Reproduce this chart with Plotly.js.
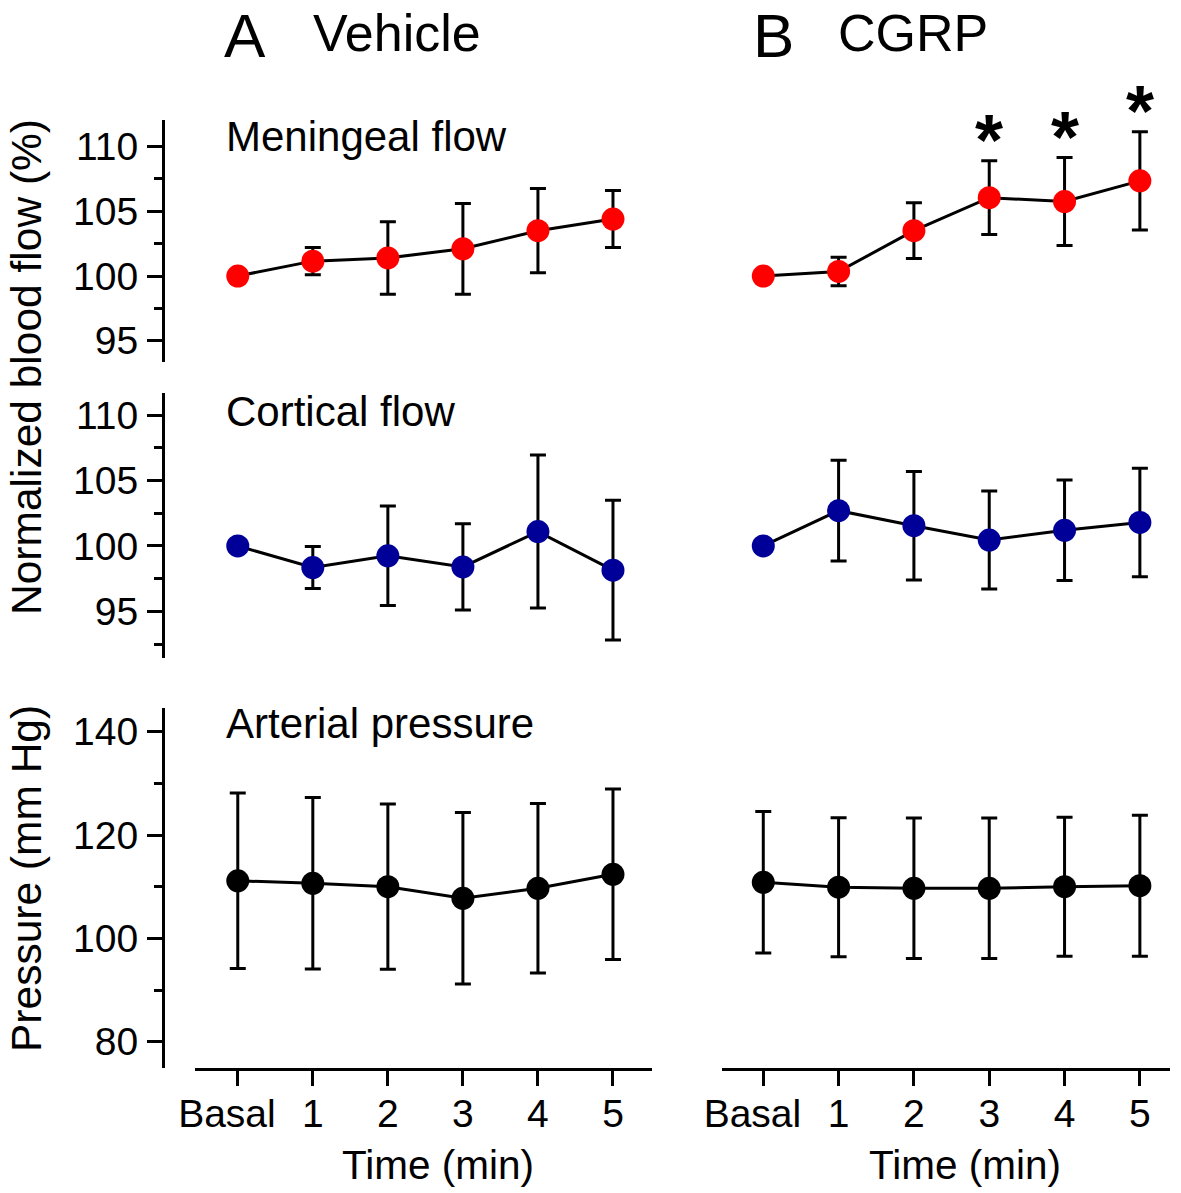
<!DOCTYPE html>
<html>
<head>
<meta charset="utf-8">
<script src="https://cdn.plot.ly/plotly-3.0.1.min.js"></script>
<style>html,body{margin:0;padding:0;background:#fff;}#chart{width:1181px;height:1193px;}</style>
</head>
<body>
<div id="chart"></div>
<script>
// ---- data ----
const timeLabels = ['Basal', '1', '2', '3', '4', '5'];

const vehMenMean  = [100, 101.15, 101.4, 102.1, 103.5, 104.4];
const vehMenErr   = [0, 1.05, 2.8, 3.5, 3.25, 2.2];
const cgrpMenMean = [100, 100.35, 103.5, 106.05, 105.75, 107.35];
const cgrpMenErr  = [0, 1.1, 2.15, 2.85, 3.4, 3.8];

const vehCorMean  = [100, 98.35, 99.25, 98.4, 101.1, 98.15];
const vehCorErr   = [0, 1.6, 3.8, 3.3, 5.85, 5.35];
const cgrpCorMean = [100, 102.7, 101.55, 100.45, 101.2, 101.8];
const cgrpCorErr  = [0, 3.85, 4.15, 3.75, 3.85, 4.15];

const vehPresMean  = [111.15, 110.65, 110.0, 107.75, 109.7, 112.4];
const vehPresErr   = [17.0, 16.6, 16.0, 16.6, 16.4, 16.5];
const cgrpPresMean = [110.85, 109.9, 109.7, 109.7, 110.0, 110.2];
const cgrpPresErr  = [13.7, 13.45, 13.6, 13.6, 13.45, 13.65];

const sigCgrpMen = ['3', '4', '5'];   // significant time points (CGRP meningeal)

// ---- figure ----
const W = 1181, H = 1193;
const FONT = 'Liberation Sans, Arial, sans-serif';
const xIdx = timeLabels.map((_, i) => i);
// the first label sits slightly left of its tick in the original
const tickText = timeLabels.map((t, i) => i === 0 ? t + '\u00a0\u00a0' : t);
const px = v => v / W;
const py = v => 1 - v / H;

function series(mean, err, color, xa, ya) {
  return {
    x: xIdx, y: mean, xaxis: xa, yaxis: ya, type: 'scatter', mode: 'lines+markers',
    line: {color: '#000', width: 3},
    marker: {color: color, size: 23, line: {width: 0}},
    error_y: {type: 'data', array: err, visible: true, color: '#000', thickness: 3, width: 8},
    showlegend: false, hoverinfo: 'skip', cliponaxis: false
  };
}

const RED = '#ff0000', BLUE = '#000099', BLACK = '#000000';
const traces = [
  series(vehMenMean, vehMenErr, RED, 'x', 'y'),
  series(cgrpMenMean, cgrpMenErr, RED, 'x2', 'y2'),
  series(vehCorMean, vehCorErr, BLUE, 'x', 'y3'),
  series(cgrpCorMean, cgrpCorErr, BLUE, 'x2', 'y4'),
  series(vehPresMean, vehPresErr, BLACK, 'x', 'y5'),
  series(cgrpPresMean, cgrpPresErr, BLACK, 'x2', 'y6')
];

const rowDom = {
  top: [py(362), py(120)],
  mid: [py(658), py(393)],
  bot: [py(1068), py(708)]
};
const leftDom = [px(195), px(652)];
const rightDom = [px(722), px(1170)];

function xAxis(dom, range, anchor) {
  return {
    domain: dom, range: range, anchor: anchor,
    tickmode: 'array', tickvals: xIdx, ticktext: tickText,
    showline: true, linecolor: '#000', linewidth: 3,
    ticks: 'outside', ticklen: 15, tickwidth: 3, tickcolor: '#000',
    ticklabelstandoff: -6,
    showgrid: false, zeroline: false,
    tickfont: {family: FONT, size: 39, color: '#000'},
    fixedrange: true
  };
}
function yAxisLeft(dom, range, dtick, minorDt) {
  return {
    domain: dom, range: range, anchor: 'free', position: px(163),
    tickmode: 'linear', tick0: 0, dtick: dtick,
    showline: true, linecolor: '#000', linewidth: 3,
    ticks: 'outside', ticklen: 15, tickwidth: 3, tickcolor: '#000',
    minor: {dtick: minorDt, tick0: 0, ticks: 'outside', ticklen: 8, tickwidth: 3, tickcolor: '#000'},
    ticklabelstandoff: 1,
    showgrid: false, zeroline: false,
    tickfont: {family: FONT, size: 39, color: '#000'},
    fixedrange: true
  };
}
function yAxisHidden(dom, range) {
  return {domain: dom, range: range, anchor: 'x2', visible: false, showgrid: false, zeroline: false, fixedrange: true};
}

const rTop = [93.36, 112.05], rMid = [91.43, 111.7], rBot = [74.9, 144.6];

const annotations = [];
function txt(text, x, y, size, opts) {
  annotations.push(Object.assign({
    text: text, xref: 'paper', yref: 'paper', x: px(x), y: py(y),
    showarrow: false, font: {family: FONT, size: size, color: '#000'},
    xanchor: 'left', yanchor: 'middle'
  }, opts || {}));
}
txt('A', 245, 0, 62, {xanchor: 'center', yanchor: 'top', borderpad: 0});
txt('Vehicle', 311, 33, 52);
txt('B', 773, 0, 62, {xanchor: 'center', yanchor: 'top', borderpad: 0});
txt('CGRP', 836, 33, 52);
txt('Meningeal flow', 224, 137, 42);
txt('Cortical flow', 224, 411, 42);
txt('Arterial pressure', 224, 723, 42);
txt('Normalized blood flow (%)', 26, 367, 42.5, {xanchor: 'center', textangle: -90});
txt('Pressure (mm Hg)', 26, 879, 42.5, {xanchor: 'center', textangle: -90});
txt('Time (min)', 438, 1165, 40.5, {xanchor: 'center'});
txt('Time (min)', 965, 1165, 40.5, {xanchor: 'center'});

// significance asterisks placed above the error bars
sigCgrpMen.forEach(lbl => {
  const i = timeLabels.indexOf(lbl);
  annotations.push({
    text: '<b>*</b>', xref: 'x2', yref: 'y2', x: i, y: cgrpMenMean[i] + cgrpMenErr[i],
    showarrow: false, xanchor: 'center', yanchor: 'middle', yshift: 21,
    font: {family: FONT, size: 72, color: '#000'}
  });
});

const layout = {
  width: W, height: H,
  margin: {l: 0, r: 0, t: 0, b: 0},
  paper_bgcolor: '#fff', plot_bgcolor: 'rgba(0,0,0,0)',
  showlegend: false,
  font: {family: FONT, color: '#000'},
  xaxis: xAxis(leftDom, [-0.57, 5.52], 'y5'),
  xaxis2: xAxis(rightDom, [-0.548, 5.40], 'y6'),
  yaxis: yAxisLeft(rowDom.top, rTop, 5, 2.5),
  yaxis2: yAxisHidden(rowDom.top, rTop),
  yaxis3: yAxisLeft(rowDom.mid, rMid, 5, 2.5),
  yaxis4: yAxisHidden(rowDom.mid, rMid),
  yaxis5: yAxisLeft(rowDom.bot, rBot, 20, 10),
  yaxis6: yAxisHidden(rowDom.bot, rBot),
  annotations: annotations
};

Plotly.newPlot('chart', traces, layout, {displayModeBar: false, staticPlot: true});
</script>
</body>
</html>
